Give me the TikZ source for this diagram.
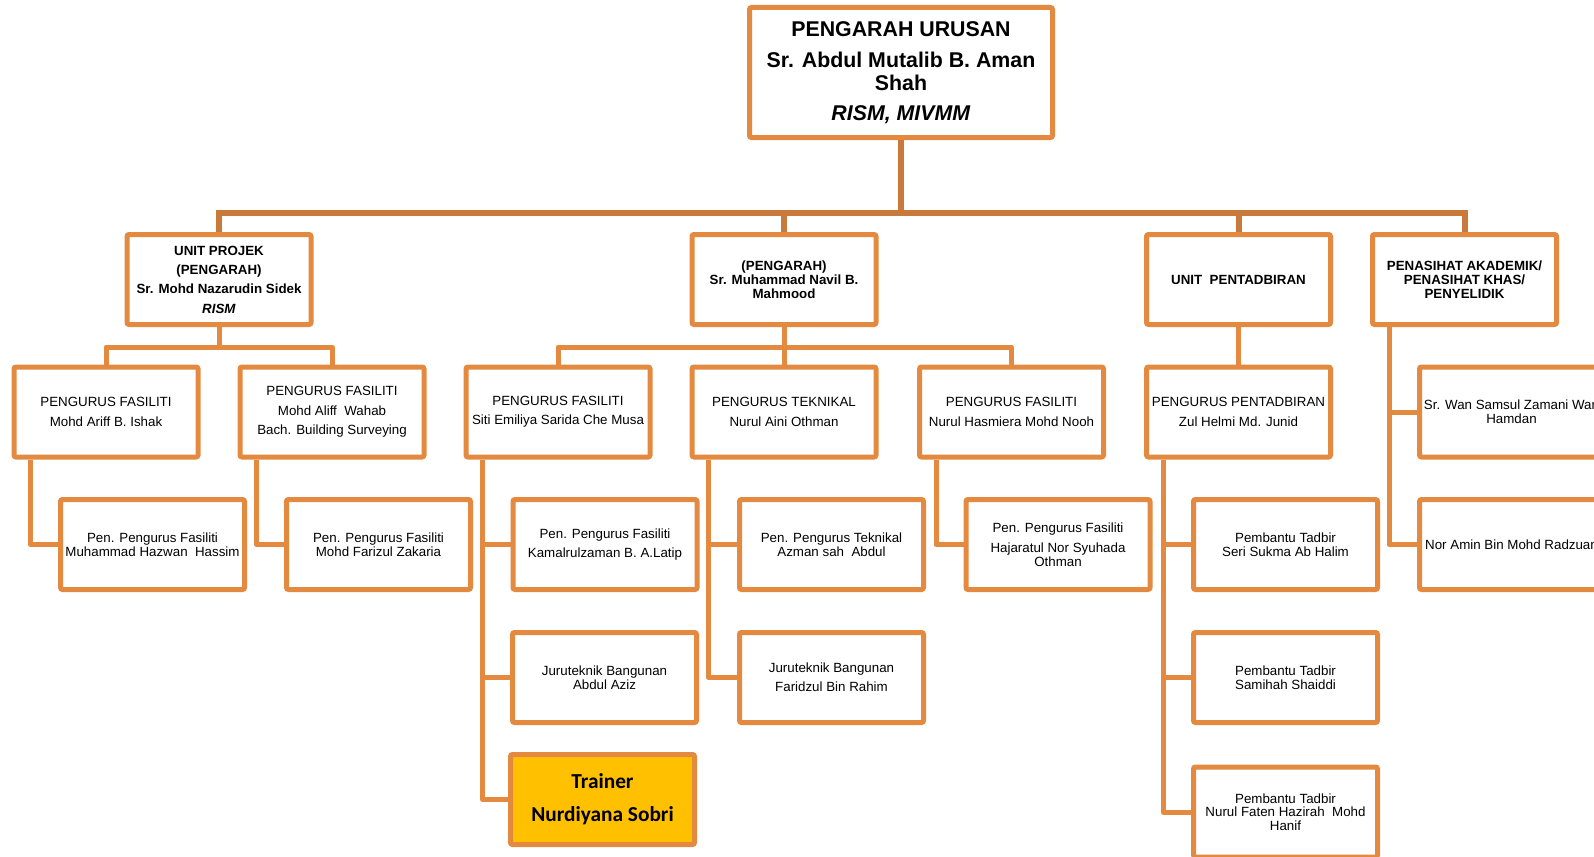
\documentclass[tikz,border=0pt]{standalone}
\usepackage{fontspec}
\setmainfont{Liberation Sans}
\newfontfamily\calibri{Carlito}
\definecolor{boxline}{RGB}{227,138,64}
\definecolor{trunkline}{RGB}{201,122,58}
\definecolor{gold}{RGB}{255,192,0}

\begin{document}
\begin{tikzpicture}[x=0.75pt,y=-0.75pt,
    box/.style={draw=boxline,line width=3.75pt,rounded corners=1.5pt,fill=white,
      minimum width=138pt,minimum height=67.5pt,inner sep=0pt,align=center},
    bigbox/.style={box,minimum width=227.25pt,minimum height=97.5pt,
      font=\fontsize{16}{17.25}\selectfont\bfseries},
    loose/.style={font=\fontsize{10}{14.5}\selectfont},
    tight/.style={font=\fontsize{10}{10.3}\selectfont},
    headloose/.style={font=\fontsize{10}{14.5}\selectfont\bfseries},
    headtight/.style={font=\fontsize{10}{10.5}\selectfont\bfseries},
    trainerbox/.style={box,fill=gold,font=\fontsize{16}{24.75}\selectfont\calibri\bfseries},
    trunk/.style={draw=trunkline,line width=4.5pt},
    link/.style={draw=boxline,line width=3.75pt,line join=round}]
    \useasboundingbox (0,0) rectangle (1594,856);
    \clip (0,0) rectangle (1594,856);

    \node[bigbox] (top) at (901,72.5) {PENGARAH URUSAN\\[6pt]Sr. Abdul Mutalib B. Aman\\Shah\\[5.25pt]\textit{RISM, MIVMM}};

    \node[box,headloose] (projek) at (219,279.5) {UNIT PROJEK\\(PENGARAH)\\Sr. Mohd Nazarudin Sidek\\\textit{RISM}};
    \node[box,headtight] (pengarah) at (784,279.5) {(PENGARAH)\\Sr. Muhammad Navil B.\\Mahmood};
    \node[box,headtight] (admin) at (1238.5,279.5) {UNIT~~PENTADBIRAN};
    \node[box,headtight] (advisor) at (1464.5,279.5) {PENASIHAT AKADEMIK/\\PENASIHAT KHAS/\\PENYELIDIK};

    \node[box,loose] (pf1) at (106,412) {PENGURUS FASILITI\\Mohd Ariff B. Ishak};
    \node[box,loose] (pf2) at (332,412) {PENGURUS FASILITI\\Mohd Aliff~~Wahab\\Bach. Building Surveying};
    \node[box,loose] (pf3) at (558,412) {PENGURUS FASILITI\\Siti Emiliya Sarida Che Musa};
    \node[box,loose] (pt) at (784,412) {PENGURUS TEKNIKAL\\Nurul Aini Othman};
    \node[box,loose] (pf5) at (1011.5,412) {PENGURUS FASILITI\\Nurul Hasmiera Mohd Nooh};
    \node[box,loose] (padm) at (1238.5,412) {PENGURUS PENTADBIRAN\\Zul Helmi Md. Junid};
    \node[box,tight] (wan) at (1511.5,412) {Sr. Wan Samsul Zamani Wan\\Hamdan};

    \node[box,tight] (pen1) at (152.5,544.5) {Pen. Pengurus Fasiliti\\Muhammad Hazwan~~Hassim};
    \node[box,tight] (pen2) at (378.5,544.5) {Pen. Pengurus Fasiliti\\Mohd Farizul Zakaria};
    \node[box,loose] (pen3) at (605,544.5) {Pen. Pengurus Fasiliti\\Kamalrulzaman B. A.Latip};
    \node[box,tight] (pen4) at (831.5,544.5) {Pen. Pengurus Teknikal\\Azman sah~~Abdul};
    \node[box,tight] (pen5) at (1058,544.5) {Pen. Pengurus Fasiliti\\[4.5pt]Hajaratul Nor Syuhada\\Othman};
    \node[box,tight] (pb1) at (1285.5,544.5) {Pembantu Tadbir\\Seri Sukma Ab Halim};
    \node[box,tight] (amin) at (1511.5,544.5) {Nor Amin Bin Mohd Radzuan};

    \node[box,tight] (jt1) at (604.5,677.5) {Juruteknik Bangunan\\Abdul Aziz};
    \node[box,loose] (jt2) at (831.5,677.5) {Juruteknik Bangunan\\Faridzul Bin Rahim};
    \node[box,tight] (pb2) at (1285.5,677.5) {Pembantu Tadbir\\Samihah Shaiddi};

    \node[trainerbox] (trainer) at (602.5,799.5) {Trainer\\Nurdiyana Sobri};
    \node[box,tight] (pb3) at (1285.5,812) {Pembantu Tadbir\\Nurul Faten Hazirah~~Mohd\\Hanif};

    \coordinate (bus) at (901,213);
    \draw[trunk] (top.south) -- (bus);
    \draw[trunk] (projek.north) |- (bus) -| (advisor.north);
    \draw[trunk] (pengarah.north) -- (pengarah.north |- bus);
    \draw[trunk] (admin.north) -- (admin.north |- bus);

    \coordinate (pbus) at (219,347);
    \draw[link] (projek.south) -- (pbus);
    \draw[link] (pf1.north) |- (pbus) -| (pf2.north);
    \coordinate (gbus) at (784,347);
    \draw[link] (pengarah) -- (pt);
    \draw[link] (pf3.north) |- (gbus) -| (pf5.north);
    \draw[link] (admin) -- (padm);

    \foreach \p/\c in {pf1/pen1,pf2/pen2,pf3/pen3,pf3/jt1,pf3/trainer,pt/pen4,pt/jt2,
        pf5/pen5,padm/pb1,padm/pb2,padm/pb3,advisor/wan,advisor/amin}
      \draw[link] ([xshift=14.25pt]\p.south west) |- (\c.west);
\end{tikzpicture}
\end{document}
